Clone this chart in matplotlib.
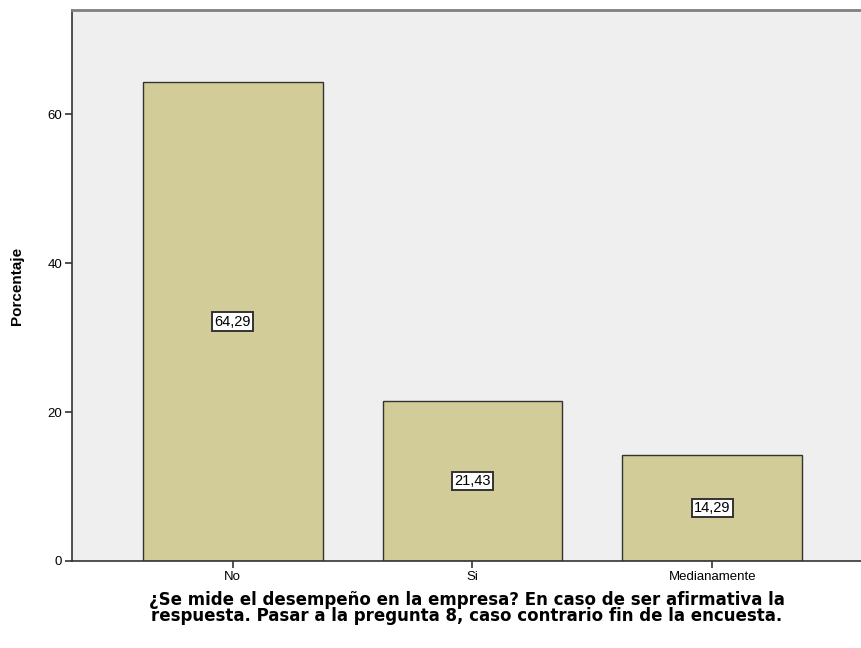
import matplotlib.pyplot as plt

# data
categories = ['No', 'Si', 'Medianamente']
porcentajes = [64.29, 21.43, 14.29]
etiquetas = ['64,29', '21,43', '14,29']
yticks = [0, 20, 40, 60]

plt.rcParams['font.family'] = ['Liberation Sans', 'DejaVu Sans']

fig = plt.figure(figsize=(8.61, 6.48), dpi=100)
ax = fig.add_axes([0.0836, 0.1343, 0.9164, 0.8503])
ax.set_facecolor('#efefef')

x = range(len(categories))
ax.bar(x, porcentajes, width=0.75, color='#d2cd98', edgecolor='#333333', linewidth=1.0, zorder=2)

# value boxes in the middle of each bar
for i, (v, lab) in enumerate(zip(porcentajes, etiquetas)):
    ax.text(i, v / 2, lab, ha='center', va='center', fontsize=10.5, zorder=3,
            bbox=dict(boxstyle='square,pad=0.15', fc='white', ec='#333333', lw=1.4))

ax.set_xlim(-0.67, 2.62)
ax.set_ylim(0, 74)
ax.set_xticks(list(x))
ax.set_xticklabels(categories, fontsize=9.5)
ax.set_yticks(yticks)
ax.set_yticklabels([str(t) for t in yticks], fontsize=9.5)
ax.tick_params(axis='both', length=5, width=1.2, color='#333333', pad=2)

ax.spines['right'].set_visible(False)
ax.spines['top'].set_color('#808080')
ax.spines['top'].set_linewidth(2)
ax.spines['left'].set_color('#333333')
ax.spines['left'].set_linewidth(1.2)
ax.spines['bottom'].set_color('#333333')
ax.spines['bottom'].set_linewidth(1.2)

ax.set_ylabel('Porcentaje', fontsize=11, fontweight='bold', labelpad=17)
ax.set_xlabel('¿Se mide el desempeño en la empresa? En caso de ser afirmativa la\n'
              'respuesta. Pasar a la pregunta 8, caso contrario fin de la encuesta.',
              fontsize=12, fontweight='bold', labelpad=6, linespacing=0.85,
              family='DejaVu Sans')

fig.savefig('out.png', dpi=100)
